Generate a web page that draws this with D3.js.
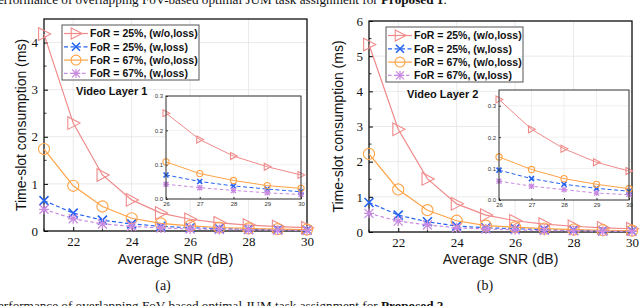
<!DOCTYPE html>
<html><head><meta charset="utf-8">
<script src="https://cdn.jsdelivr.net/npm/d3@7"></script>
<style>
body{margin:0;background:#fff;}
svg{display:block;}
</style></head>
<body><svg id="c" width="640" height="306"></svg>
<script>
const snr = [21,22,23,24,25,26,27,28,29,30];
const seriesNames = ["FoR = 25%, (w/o,loss)","FoR = 25%, (w,loss)","FoR = 67%, (w/o,loss)","FoR = 67%, (w,loss)"];
// Panel (a) Video Layer 1
const red1    = [4.18, 2.29, 1.19, 0.66, 0.38, 0.25, 0.173, 0.125, 0.094, 0.070];
const blue1   = [0.645, 0.38, 0.23, 0.15, 0.10, 0.070, 0.051, 0.038, 0.029, 0.021];
const orange1 = [1.74, 0.96, 0.52, 0.27, 0.16, 0.108, 0.074, 0.054, 0.039, 0.031];
const purple1 = [0.46, 0.26, 0.15, 0.10, 0.065, 0.043, 0.033, 0.025, 0.018, 0.013];
// Panel (b) Video Layer 2
const red2    = [5.33, 2.92, 1.51, 0.80, 0.48, 0.32, 0.225, 0.163, 0.12, 0.092];
const blue2   = [0.84, 0.48, 0.29, 0.17, 0.12, 0.095, 0.068, 0.050, 0.037, 0.028];
const orange2 = [2.22, 1.21, 0.62, 0.32, 0.18, 0.137, 0.097, 0.068, 0.050, 0.036];
const purple2 = [0.53, 0.31, 0.20, 0.12, 0.085, 0.060, 0.044, 0.033, 0.022, 0.017];
const xTicks = [22,24,26,28,30];
const yTicks1 = [0,1,2,3,4];
const yTicks2 = [0,1,2,3,4,5,6];
const insetXTicks = [26,27,28,29,30];
const insetYTicks = [0.0,0.1,0.2,0.3];

const colors = ["#f08a8a","#2563f0","#ffa347","#c98be0"];
const dashes = [null,"4,2.5",null,"3.5,2.5"];
const markers = ["tri","x","circle","star"];

const svg = d3.select("#c");

function marker(g, type, x, y, s, col){
  if(type==="tri"){
    g.append("path").attr("d",`M${x-s*0.6},${y-s*0.7}L${x+s*0.75},${y}L${x-s*0.6},${y+s*0.7}Z`)
      .attr("fill","none").attr("stroke",col).attr("stroke-width",1.1);
  } else if(type==="circle"){
    g.append("circle").attr("cx",x).attr("cy",y).attr("r",s*0.62)
      .attr("fill","none").attr("stroke",col).attr("stroke-width",1.1);
  } else if(type==="x"){
    const r=s*0.5;
    g.append("path").attr("d",`M${x-r},${y-r}L${x+r},${y+r}M${x-r},${y+r}L${x+r},${y-r}`)
      .attr("stroke",col).attr("stroke-width",1.6);
  } else {
    const r=s*0.5;
    g.append("path").attr("d",`M${x-r},${y-r}L${x+r},${y+r}M${x-r},${y+r}L${x+r},${y-r}M${x},${y-r*1.1}L${x},${y+r*1.1}M${x-r*1.1},${y}L${x+r*1.1},${y}`)
      .attr("stroke",col).attr("stroke-width",1.3);
  }
}

function drawSeries(g, xs, ys, data, ms, lw){
  data.forEach((vals,i)=>{
    const line = d3.line().x((d,j)=>xs(snr[j])).y(d=>ys(d)).defined((d,j)=>snr[j]>=xs.domain()[0]);
    g.append("path").datum(vals).attr("d",line).attr("fill","none")
      .attr("stroke",colors[i]).attr("stroke-width",lw).attr("stroke-dasharray",dashes[i]);
    vals.forEach((v,j)=>{ if(snr[j]>=xs.domain()[0]) marker(g,markers[i],xs(snr[j]),ys(v),ms,colors[i]); });
  });
}

function panel(o){
  const g = svg.append("g");
  const xs = d3.scaleLinear().domain([21,30]).range([o.x0,o.x1]);
  const ys = d3.scaleLinear().domain([0,o.ymax]).range([o.yb,o.yt]);
  // grid
  const grid = g.append("g").attr("stroke","#e4e4e4").attr("stroke-width",0.8);
  xTicks.forEach(t=>grid.append("line").attr("x1",xs(t)).attr("x2",xs(t)).attr("y1",o.yt).attr("y2",o.yb));
  o.yTicks.forEach(t=>grid.append("line").attr("x1",o.x0).attr("x2",o.x1).attr("y1",ys(t)).attr("y2",ys(t)));
  // axes
  const ax = g.append("g").attr("transform",`translate(0,${o.yb})`)
    .call(d3.axisBottom(xs).tickValues(xTicks).tickFormat(d3.format("d")).tickSize(-4).tickPadding(6));
  const ay = g.append("g").attr("transform",`translate(${o.x0},0)`)
    .call(d3.axisLeft(ys).tickValues(o.yTicks).tickFormat(d3.format("d")).tickSize(-4).tickPadding(6));
  // minor ticks
  const minor = g.append("g").attr("stroke","#000").attr("stroke-width",0.8);
  d3.range(21,30).filter(v=>v%2===1).forEach(t=>minor.append("line").attr("x1",xs(t)).attr("x2",xs(t)).attr("y1",o.yb).attr("y2",o.yb-2.5));
  d3.range(0.5,o.ymax,1).forEach(t=>minor.append("line").attr("x1",o.x0).attr("x2",o.x0+2.5).attr("y1",ys(t)).attr("y2",ys(t)));
  [ax,ay].forEach(a=>{
    a.select(".domain").remove();
    a.selectAll("text").attr("font-family","'Liberation Serif','Times New Roman',serif").attr("font-size",13).attr("fill","#111");
    a.selectAll(".tick line").attr("stroke","#000");
  });
  g.append("rect").attr("x",o.x0).attr("y",o.yt).attr("width",o.x1-o.x0).attr("height",o.yb-o.yt)
    .attr("fill","none").attr("stroke","#111").attr("stroke-width",1.3);

  drawSeries(g.append("g"), xs, ys, o.data, 9, 1.2);

  // inset
  const ig = g.append("g");
  const ixs = d3.scaleLinear().domain([26,30]).range([o.ix0,o.ix1]);
  const iys = d3.scaleLinear().domain([0,o.iymax]).range([o.iyb,o.iyt]);
  ig.append("rect").attr("x",o.ix0).attr("y",o.iyt).attr("width",o.ix1-o.ix0).attr("height",o.iyb-o.iyt).attr("fill","#fff");
  const igrid = ig.append("g").attr("stroke","#ececec").attr("stroke-width",0.8);
  insetXTicks.forEach(t=>igrid.append("line").attr("x1",ixs(t)).attr("x2",ixs(t)).attr("y1",o.iyt).attr("y2",o.iyb));
  insetYTicks.forEach(t=>igrid.append("line").attr("x1",o.ix0).attr("x2",o.ix1).attr("y1",iys(t)).attr("y2",iys(t)));
  const iax = ig.append("g").attr("transform",`translate(0,${o.iyb})`)
    .call(d3.axisBottom(ixs).tickValues(insetXTicks).tickFormat(d3.format("d")).tickSize(-2).tickPadding(3));
  const iay = ig.append("g").attr("transform",`translate(${o.ix0},0)`)
    .call(d3.axisLeft(iys).tickValues(insetYTicks).tickFormat(d3.format(".1f")).tickSize(-2).tickPadding(3));
  [iax,iay].forEach(a=>{
    a.select(".domain").remove();
    a.selectAll("text").attr("font-family","'Liberation Sans',Arial,sans-serif").attr("font-size",6).attr("fill","#333");
    a.selectAll(".tick line").attr("stroke","#333");
  });
  drawSeries(ig.append("g"), ixs, iys, o.data, 5, 1);
  ig.append("rect").attr("x",o.ix0).attr("y",o.iyt).attr("width",o.ix1-o.ix0).attr("height",o.iyb-o.iyt)
    .attr("fill","none").attr("stroke","#333").attr("stroke-width",1);

  // legend
  const lg = g.append("g");
  lg.append("rect").attr("x",o.lx).attr("y",o.ly).attr("width",137).attr("height",55)
    .attr("fill","#fff").attr("stroke","#555").attr("stroke-width",1);
  seriesNames.forEach((n,i)=>{
    const yy = o.ly+8.5+i*13.3;
    lg.append("line").attr("x1",o.lx+2).attr("x2",o.lx+26).attr("y1",yy).attr("y2",yy)
      .attr("stroke",colors[i]).attr("stroke-width",1.2).attr("stroke-dasharray",dashes[i]);
    marker(lg,markers[i],o.lx+14,yy,8,colors[i]);
    lg.append("text").attr("x",o.lx+28).attr("y",yy+3.8).text(n)
      .attr("font-family","'Liberation Sans',Arial,sans-serif").attr("font-weight","bold").attr("font-size",10.5).attr("fill","#111");
  });
  g.append("text").attr("x",o.vx).attr("y",o.vy).text(o.vlabel)
    .attr("font-family","'Liberation Sans',Arial,sans-serif").attr("font-weight","bold").attr("font-size",11).attr("fill","#111");
  // axis labels
  g.append("text").attr("transform",`translate(${o.ylx},${(o.yt+o.yb)/2}) rotate(-90)`).attr("text-anchor","middle")
    .text("Time-slot consumption (ms)").attr("font-family","'Liberation Sans',Arial,sans-serif").attr("font-size",14).attr("fill","#111");
  g.append("text").attr("x",(o.x0+o.x1)/2).attr("y",264).attr("text-anchor","middle")
    .text("Average SNR (dB)").attr("font-family","'Liberation Sans',Arial,sans-serif").attr("font-size",14).attr("fill","#111");
  g.append("text").attr("x",o.capx).attr("y",290).attr("text-anchor","middle")
    .text(o.cap).attr("font-family","'Liberation Serif','Times New Roman',serif").attr("font-size",14).attr("fill","#111");
}

panel({x0:44,x1:307,yt:19,yb:231,ymax:4.5,yTicks:yTicks1,data:[red1,blue1,orange1,purple1],
  ix0:166,ix1:301,iyt:96,iyb:199,iymax:0.3,lx:62,ly:25,vx:76,vy:95,vlabel:"Video Layer 1",ylx:26,capx:163,cap:"(a)"});
panel({x0:369,x1:632,yt:21,yb:232,ymax:6,yTicks:yTicks2,data:[red2,blue2,orange2,purple2],
  ix0:499,ix1:629,iyt:90,iyb:200,iymax:0.35,lx:386,ly:27,vx:407,vy:98,vlabel:"Video Layer 2",ylx:343,capx:485,cap:"(b)"});

// cropped captions
const capFont = "'Liberation Serif','Times New Roman',serif";
const t1 = svg.append("text").attr("x",-2).attr("y",4).attr("font-family",capFont).attr("font-size",13.2).attr("fill","#111");
t1.append("tspan").text("erformance of overlapping FoV-based optimal JUM task assignment for ");
t1.append("tspan").attr("font-weight","bold").text("Proposed 1");
t1.append("tspan").text(".");
const t2 = svg.append("text").attr("x",-2).attr("y",310).attr("font-family",capFont).attr("font-size",13.2).attr("fill","#111");
t2.append("tspan").text("erformance of overlapping FoV-based optimal JUM task assignment for ");
t2.append("tspan").attr("font-weight","bold").text("Proposed 2");
t2.append("tspan").text(".");
</script></body></html>
